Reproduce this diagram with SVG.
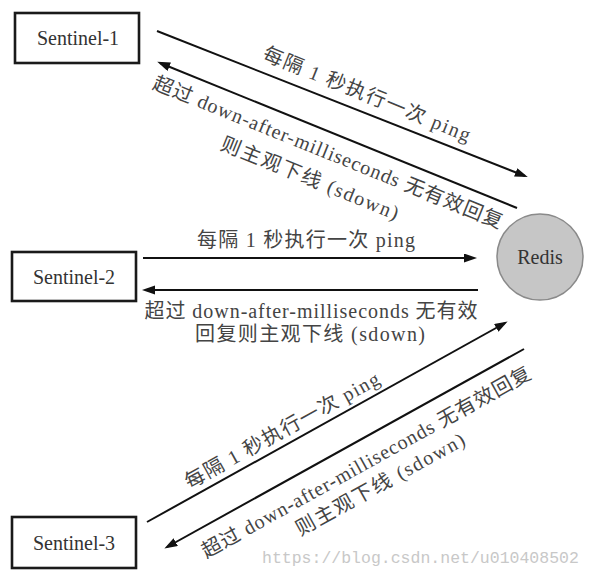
<svg xmlns="http://www.w3.org/2000/svg" width="591" height="577" viewBox="0 0 591 577">
<style>
.box{fill:#fff;stroke:#1a1a1a;stroke-width:2.6}
.node{font-family:"Liberation Serif","Noto Sans CJK SC",serif;font-size:20px;fill:#333;text-anchor:middle}
.lbl{font-family:"Liberation Serif","Noto Sans CJK SC",serif;font-size:20px;fill:#444;text-anchor:middle}
.edge{stroke:#111;stroke-width:2;fill:none;marker-end:url(#ah)}
.wm{font-family:"Liberation Mono",monospace;font-size:16.5px;fill:#c8c8c8}
</style>
<defs>
<marker id="ah" markerUnits="userSpaceOnUse" markerWidth="14" markerHeight="10" refX="10" refY="4.5" orient="auto">
<path d="M0,0 L13,4.5 L0,9 z" fill="#111"/>
</marker>
</defs>
<rect width="591" height="577" fill="#fff"/>
<g id="sentinel1">
<rect class="box" x="15" y="13" width="124" height="50"/>
<text class="node" x="78" y="45">Sentinel-1</text>
</g>
<g id="sentinel2">
<rect class="box" x="12" y="252" width="124" height="49"/>
<text class="node" x="74" y="284">Sentinel-2</text>
</g>
<g id="sentinel3">
<rect class="box" x="12" y="517" width="124" height="51"/>
<text class="node" x="74" y="550">Sentinel-3</text>
</g>
<g id="redis">
<circle cx="540" cy="257" r="43" fill="#c6c6c6" stroke="#8a8a8a" stroke-width="1.5"/>
<text class="node" x="540" y="264">Redis</text>
</g>
<g id="connectors">
<line class="edge" x1="157" y1="31" x2="525" y2="176"/>
<line class="edge" x1="517" y1="208" x2="160" y2="63"/>
<line class="edge" x1="143" y1="258" x2="474" y2="258"/>
<line class="edge" x1="478" y1="290" x2="145" y2="290"/>
<line class="edge" x1="147" y1="522" x2="505" y2="323"/>
<line class="edge" x1="524" y1="349" x2="167" y2="547"/>
</g>
<g id="labels">
<text class="lbl" transform="translate(367,94) rotate(22)" y="7" textLength="222" lengthAdjust="spacing">每隔 1 秒执行一次 ping</text>
<text class="lbl" transform="translate(328,152) rotate(22)" y="7" textLength="375" lengthAdjust="spacing">超过 down-after-milliseconds 无有效回复</text>
<text class="lbl" transform="translate(310,178) rotate(22)" y="7" textLength="190" lengthAdjust="spacing">则主观下线 (sdown)</text>
<text class="lbl" x="306" y="247" textLength="218" lengthAdjust="spacing">每隔 1 秒执行一次 ping</text>
<text class="lbl" x="311" y="318" textLength="333" lengthAdjust="spacing">超过 down-after-milliseconds 无有效</text>
<text class="lbl" x="310" y="341" textLength="230" lengthAdjust="spacing">回复则主观下线 (sdown)</text>
<text class="lbl" transform="translate(282,430) rotate(-29)" y="7" textLength="219" lengthAdjust="spacing">每隔 1 秒执行一次 ping</text>
<text class="lbl" transform="translate(366,462) rotate(-29)" y="7" textLength="373" lengthAdjust="spacing">超过 down-after-milliseconds 无有效回复</text>
<text class="lbl" transform="translate(380,484) rotate(-29)" y="7" textLength="190" lengthAdjust="spacing">则主观下线 (sdown)</text>
</g>
<text class="wm" x="262" y="563">https://blog.csdn.net/u010408502</text>
</svg>
